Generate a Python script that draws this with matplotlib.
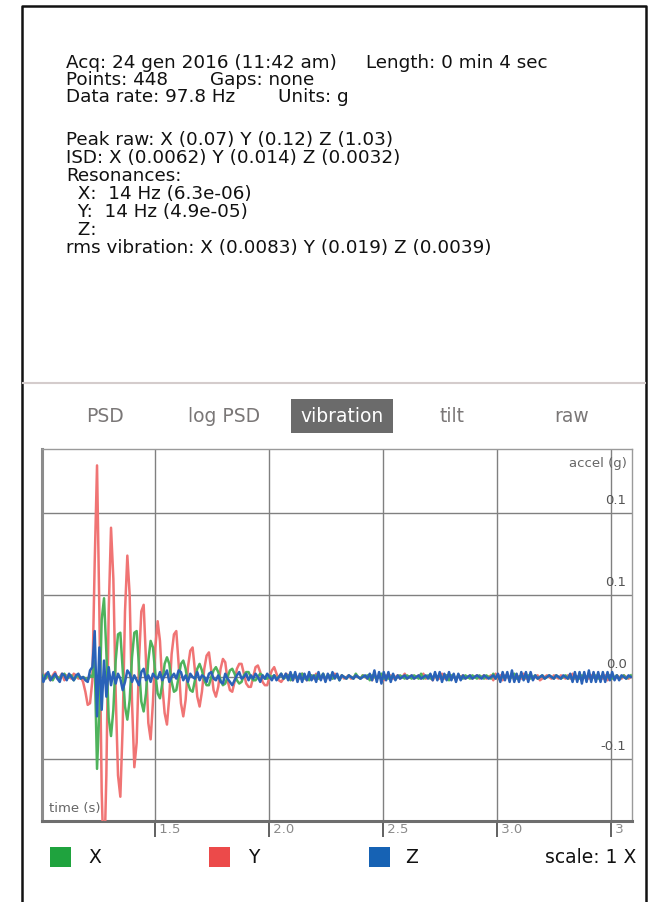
import numpy as np
import matplotlib
matplotlib.use("Agg")
import matplotlib.pyplot as plt
from matplotlib.patches import Rectangle
from matplotlib.lines import Line2D

# ---------------- data (values in milli-g) ----------------
rate_hz = 97.8
t_start = 1.0

series_names = ["X", "Y", "Z"]
series_colors = ["#4fb35c", "#f07474", "#2a62b8"]
legend_colors = ["#1fa33e", "#ec4a4a", "#1662b4"]

y_mg = [1, -1, 2, 0, -2, 1, 3, -1, 0, 2, -2, 1, 0, -1, 2, 1, -1, 0, -3,
        -9, -17, -16, -2, 70, 129, 40, -70, -120, -60, 40,
        91, 60, -10, -60, -73, -30, 40, 74, 50, -15,
        -55, -40, 10, 40, 44, 10, -28, -38, -15, 18,
        34, 22, -5, -22, -29, -12, 14, 26, 28, 8,
        -16, -24, -14, 6, 16, 18, 4, -12, -18, -9,
        5, 13, 15, 4, -8, -12, -6, 5, 11, 9,
        -2, -8, -9, -3, 5, 8, 8, 2, -4, -6,
        -6, 0, 6, 7, 3, -3, -5, -5, 0, 4,
        6, 2, -2, -3, -1, 2, 1, -1, -2, 1,
        0, -1, 2, 1, -2, 0, 1, -1, 2, -1,
        0, 1, -2, 1, 0, -1, 2, 0, -1, 1,
        -1, 0, 1, -1, 0, 1, 0, -1, 1, 0,
        -1, 1, -2, 2, -1, 0, 1, -2, 1, 0,
        1, -1, 0, 1, -1, 0, 2, -1, 0, 1,
        -1, 0, 1, -1, 2, -1, 0, 1, -2, 1,
        0, -1, 2, -1, 1, 0, -1, 1, -2, 1,
        0, 1, -1, 0, 1, -1, 0, 1, -1, 0,
        1, -1, 0, 1, -2, 2, -1, 1, -2, 1,
        0, -1, 2, -2, 1, 0, -1, 2, -1, 0,
        1, -1, 0, 1, -2, -1, 0, 1, 0, -1,
        1, 0, -1, 1, 0, -1, 1, -1, 2, -1,
        0, 1, -2, 1, 0, -1, 1, 0, -1, 1,
        0, -1, 1, -2, 1, 0, -1, 1, 0, -1,
        1, 0, -1, 0]

x_mg = [0, 1, -1, 2, 0, -2, 1, 0, -1, 1, 2, -1, 0, 1, -2, 0, 1, -1, 0, -1, -2, 1,
        0, 10, -56, -20, 35, 48, 15, -25,
        -36, -20, 10, 26, 27, 5, -18, -26, -14, 12,
        27, 28, 6, -15, -21, -10, 10, 22, 18, 2,
        -10, -13, -4, 8, 12, 8, -3, -9, -8, 0,
        8, 10, 5, -4, -8, -9, -2, 5, 8, 4,
        -2, -5, -5, 0, 4, 6, 3, -2, -5, -4,
        0, 4, 5, 2, -2, -4, -3, 1, 3, 3,
        0, -2, -2, 0, 2, 1, -1, -1, 1, 0,
        1, -1, 0, 2, -1, 0, 1, -2, 1, 0,
        -1, 1, 2, -1, 0, -2, 1, 0, 1, -1,
        0, 2, -1, 0, 1, -1, 0, 1, -2, 1,
        0, -1, 1, 0, -1, 2, 0, -1, 1, 0,
        1, -2, 1, 0, -1, 1, 2, -1, 0, -1,
        0, 1, -1, 0, 1, 0, -1, 1, 0, -1,
        1, 0, -1, 2, -1, 0, 1, -1, 0, 1,
        -1, 2, -1, 0, 1, -2, 1, 0, -1, 1,
        0, -1, 1, 0, -1, 1, 0, -1, 1, 0,
        -1, 1, 0, -1, 2, -1, 1, -2, 1, 0,
        1, -1, 0, 2, -1, 0, 1, -1, 0, 1,
        -1, 0, 1, -1, 0, 1, -1, 0, 1, 0,
        -1, 1, 0, -1, 0, 1, -1, 1, -2, 1,
        0, -1, 1, 0, -1, 2, -1, 0, 1, -1,
        0, 1, -1, 0, 1, -1, 0, 1, -1, 0,
        1, -1, 0, 1]

z_mg = [2, -3, 1, 3, -2, 0, 2, -1, -3, 2, 1, -2, 2, 0, -2, 1, 2, -1, 0, -2,
        -3, 4, 6, 28, -24, 18, -20, 10, -12, 6,
        -5, 3, -4, 2, -1, -8, -3, 4, 2, -3,
        1, -2, -5, 3, 5, -2, 1, -3, 2, 0,
        -1, 3, -2, 1, 4, -3, 0, 2, -1, 4,
        3, -2, 1, -3, 2, 0, -1, 3, -2, 1,
        0, -3, 2, 3, -1, -2, 1, -3, -4, 2,
        -1, -3, -5, -2, 1, 3, -1, 0, 2, -2,
        1, -1, 2, 0, -3, 1, -1, 2, 0, -2,
        1, -2, 0, 2, -1, 2, -2, 3, -2, 3,
        -3, 2, -3, 2, -2, 3, -2, 1, -3, 3,
        -2, 2, -3, 2, -2, 3, -1, 2, -2, 1,
        0, -1, 1, 0, -1, 1, 0, -1, 0, 1,
        -1, 2, -2, 4, -3, 3, -4, 3, -2, 3,
        -3, 2, -2, 1, -1, 0, 1, -1, 0, 1,
        -1, 0, 1, -1, 0, 1, -1, 2, -2, 3,
        -2, 3, -3, 2, -2, 3, -2, 2, -3, 2,
        -2, 1, -1, 0, 1, -1, 0, 1, 0, -1,
        1, 0, -1, 0, 1, -1, 2, -3, 3, -2,
        3, -3, 4, -3, 2, -3, 3, -2, 3, -3,
        3, -2, 1, -1, 0, 1, -1, 0, 1, 0,
        -1, 1, 0, -1, 1, 0, -1, 2, -3, 3,
        -3, 3, -4, 3, -3, 4, -3, 3, -3, 3,
        -3, 3, -3, 3, -2, 3, -2, 1, -2, 1,
        0, -1, 1, 0]

x_ticks = [1.5, 2.0, 2.5, 3.0, 3.5]
x_tick_labels = ["1.5", "2.0", "2.5", "3.0", "3"]
y_grid = [-0.05, 0.0, 0.05, 0.10]
y_grid_labels = ["-0.1", "0.0", "0.1", "0.1"]

header_lines = [
    ("Acq: 24 gen 2016 (11:42 am)", "Length: 0 min 4 sec"),
    ("Points: 448", "Gaps: none"),
    ("Data rate: 97.8 Hz", "Units: g"),
]
info_lines = [
    "Peak raw: X (0.07) Y (0.12) Z (1.03)",
    "ISD: X (0.0062) Y (0.014) Z (0.0032)",
    "Resonances:",
    "  X:  14 Hz (6.3e-06)",
    "  Y:  14 Hz (4.9e-05)",
    "  Z:",
    "rms vibration: X (0.0083) Y (0.019) Z (0.0039)",
]
tabs = ["PSD", "log PSD", "vibration", "tilt", "raw"]
active_tab = "vibration"

# ---------------- figure ----------------
W, H = 660, 903
fig = plt.figure(figsize=(W / 100, H / 100), dpi=100)
fig.patch.set_facecolor("white")
plt.rcParams["font.family"] = ["DejaVu Sans"]


def fx(px):
    return px / W


def fy(py):
    return 1 - py / H


# outer border (open at bottom)
fig.add_artist(Line2D([fx(22), fx(22), fx(646), fx(646)], [fy(903), fy(7), fy(7), fy(903)],
                      color="#111111", lw=1.8, transform=fig.transFigure))
# separator
fig.add_artist(Line2D([fx(23), fx(645)], [fy(384), fy(384)], color="#d4cccc", lw=1.5,
                      transform=fig.transFigure))

text_col = "#111111"
fs_head = 13.2
# header lines
head_y = [63, 80, 97]
second_x = [366, 210, 278]
for (a, b), yy, x2 in zip(header_lines, head_y, second_x):
    fig.text(fx(66), fy(yy), a, fontsize=fs_head, color=text_col, va="center", ha="left")
    fig.text(fx(x2), fy(yy), b, fontsize=fs_head, color=text_col, va="center", ha="left")
info_y = [140, 158, 176, 194, 212, 230, 248]
for line, yy in zip(info_lines, info_y):
    fig.text(fx(66), fy(yy), line, fontsize=fs_head, color=text_col, va="center", ha="left")

# tabs
tab_x = [105, 224, 342, 452, 572]
for name, tx in zip(tabs, tab_x):
    if name == active_tab:
        fig.add_artist(Rectangle((fx(291), fy(434)), fx(393) - fx(291), fy(400) - fy(434),
                                 transform=fig.transFigure, facecolor="#6b6b6b", edgecolor="none"))
        fig.text(fx(tx), fy(417), name, fontsize=13.5, color="white", ha="center", va="center")
    else:
        fig.text(fx(tx), fy(417), name, fontsize=13.5, color="#7a7777", ha="center", va="center")

# ---------------- plot axes ----------------
L, R, T, B = 42, 632, 450, 822
ax = fig.add_axes([fx(L), fy(B), fx(R) - fx(L), fy(T) - fy(B)])
ax.set_facecolor("white")

for name, vals, col in [("Y", y_mg, series_colors[1]), ("X", x_mg, series_colors[0]),
                        ("Z", z_mg, series_colors[2])]:
    v = np.array(vals) / 1000.0
    t = t_start + np.arange(len(v)) / rate_hz
    ax.plot(t, v, color=col, lw=1.8, solid_joinstyle="round", zorder=3)

ax.set_xlim(1.004, 3.592)
ax.set_ylim(-0.0878, 0.139)
ax.set_yticks(y_grid)
ax.set_yticklabels([])
ax.tick_params(axis="y", length=0)
ax.set_xticks(x_ticks)
ax.set_xticklabels([" " + s for s in x_tick_labels])
ax.tick_params(axis="x", direction="out", length=11.5, width=1.3, color="#555555",
               pad=-10.5, labelsize=9.5, labelcolor="#8a8a8a")
for lab in ax.get_xticklabels():
    lab.set_horizontalalignment("left")
ax.grid(True, color="#808080", lw=1.0, zorder=1)

for side, lw, c in [("left", 2.2, "#8c8c8c"), ("bottom", 2.2, "#6e6e6e"),
                    ("top", 1.0, "#9a9a9a"), ("right", 1.0, "#9a9a9a")]:
    ax.spines[side].set_linewidth(lw)
    ax.spines[side].set_color(c)

for val, lab in zip(y_grid, y_grid_labels):
    ax.text(3.568, val + 0.0045, lab, ha="right", va="bottom", fontsize=9.5, color="#555555", zorder=4)
ax.text(3.568, 0.131, "accel (g)", ha="right", va="center", fontsize=9.5, color="#666666", zorder=4)
ax.text(0.012, 0.018, "time (s)", transform=ax.transAxes, ha="left", va="bottom",
        fontsize=9.5, color="#666666", zorder=4)

# ---------------- legend row ----------------
sq = [(50, legend_colors[0], 88, "X"), (209, legend_colors[1], 248, "Y"), (369, legend_colors[2], 405, "Z")]
for x0, c, lx, lab in sq:
    fig.add_artist(Rectangle((fx(x0), fy(868)), fx(21), fy(848) - fy(868),
                             transform=fig.transFigure, facecolor=c, edgecolor="none"))
    fig.text(fx(lx), fy(858), lab, fontsize=13.5, color=text_col, ha="left", va="center")
fig.text(fx(636), fy(858), "scale: 1 X", fontsize=13.5, color=text_col, ha="right", va="center")

fig.savefig("out.png", dpi=100, facecolor="white")
